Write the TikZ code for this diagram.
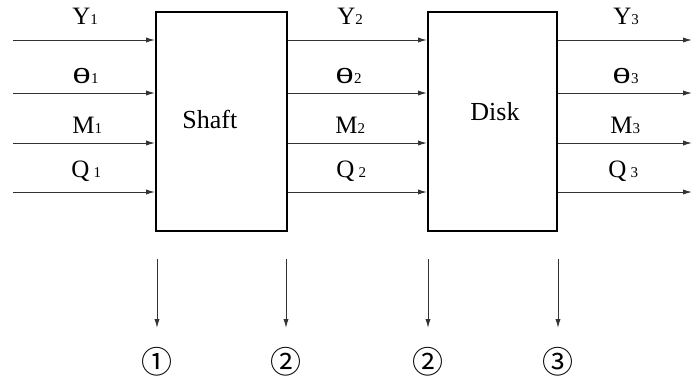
\documentclass[tikz,border=0pt]{standalone}
\usepackage{fontspec}
\setmainfont{Liberation Serif}
\newfontfamily\thetafont{Liberation Sans}
\newfontfamily\circfont{Noto Sans CJK SC}
\usepackage{tikz}
\usetikzlibrary{arrows.meta}
\newcommand{\idx}[1]{{\fontsize{7.5}{8}\selectfont #1}}
\newcommand{\thetasym}{\scalebox{1.6}[1]{\thetafont\fontsize{10.5}{11}\selectfont θ}}

\begin{document}
\begin{tikzpicture}[
      x=0.5pt,
      y=-0.5pt,
      partbox/.style={
        draw,
        line width=1pt,
        fill=white,
        minimum width=65.5pt,
        minimum height=109.5pt,
        inner sep=0pt
      },
      flow/.style={-{Latex[length=4.5pt,width=2.6pt]}, line width=0.5pt, draw=black!80},
      varlabel/.style={anchor=base west, inner sep=0pt, font=\fontsize{12.5}{14}\selectfont},
      partlabel/.style={anchor=base west, inner sep=0pt, font=\fontsize{13}{15}\selectfont},
      station/.style={inner sep=0pt, font=\circfont\fontsize{15.5}{17}\selectfont}
    ]
    \useasboundingbox (0,0) rectangle (696,382);

    % the two parts
    \node[partbox] (shaft) at (221.5,121.5) {};
    \node[partbox, minimum width=64.5pt] (disk) at (492.5,121.5) {};
    \node[partlabel] (shafttxt) at (182,128) {Shaft};
    \node[partlabel] (disktxt) at (470,120) {Disk};

    % free ends of the state lines
    \coordinate (inY) at (13,40);
    \coordinate (inT) at (13,93);
    \coordinate (inM) at (13,143);
    \coordinate (inQ) at (13,192);
    \coordinate (outY) at (692,40);
    \coordinate (outT) at (692,93);
    \coordinate (outM) at (692,143);
    \coordinate (outQ) at (692,192);

    \draw[flow] (inY) -- (shaft.west |- inY);
    \draw[flow] (inT) -- (shaft.west |- inT);
    \draw[flow] (inM) -- (shaft.west |- inM);
    \draw[flow] (inQ) -- (shaft.west |- inQ);

    \draw[flow] (shaft.east |- inY) -- (disk.west |- inY);
    \draw[flow] (shaft.east |- inT) -- (disk.west |- inT);
    \draw[flow] (shaft.east |- inM) -- (disk.west |- inM);
    \draw[flow] (shaft.east |- inQ) -- (disk.west |- inQ);

    \draw[flow] (disk.east |- outY) -- (outY);
    \draw[flow] (disk.east |- outT) -- (outT);
    \draw[flow] (disk.east |- outM) -- (outM);
    \draw[flow] (disk.east |- outQ) -- (outQ);

    % state variables
    \node[varlabel] (y1) at (72,24) {Y\idx{1}};
    \node[varlabel] (t1) at (72,83) {\thetasym\idx{1}};
    \node[varlabel] (m1) at (72,133) {M\idx{1}};
    \node[varlabel] (q1) at (71,177) {Q\,\idx{1}};

    \node[varlabel] (y2) at (337,24) {Y\idx{2}};
    \node[varlabel] (t2) at (335,83) {\thetasym\idx{2}};
    \node[varlabel] (m2) at (335,133) {M\idx{2}};
    \node[varlabel] (q2) at (336,177) {Q\,\idx{2}};

    \node[varlabel] (y3) at (613,24) {Y\idx{3}};
    \node[varlabel] (t3) at (612,83) {\thetasym\idx{3}};
    \node[varlabel] (m3) at (610,133) {M\idx{3}};
    \node[varlabel] (q3) at (608,177) {Q\,\idx{3}};

    % stations
    \node[station] (st1) at (157,362) {①};
    \node[station] (st2) at (286,362) {②};
    \node[station] (st3) at (428,362) {②};
    \node[station] (st4) at (558,362) {③};

    \coordinate (a1) at (157,259);
    \coordinate (a2) at (286,259);
    \coordinate (a3) at (428,259);
    \coordinate (a4) at (558,259);
    \coordinate (b1) at (157,328);
    \coordinate (b2) at (286,328);
    \coordinate (b3) at (428,328);
    \coordinate (b4) at (558,328);
    \draw[flow] (a1) -- (b1);
    \draw[flow] (a2) -- (b2);
    \draw[flow] (a3) -- (b3);
    \draw[flow] (a4) -- (b4);
  \end{tikzpicture}
\end{document}
